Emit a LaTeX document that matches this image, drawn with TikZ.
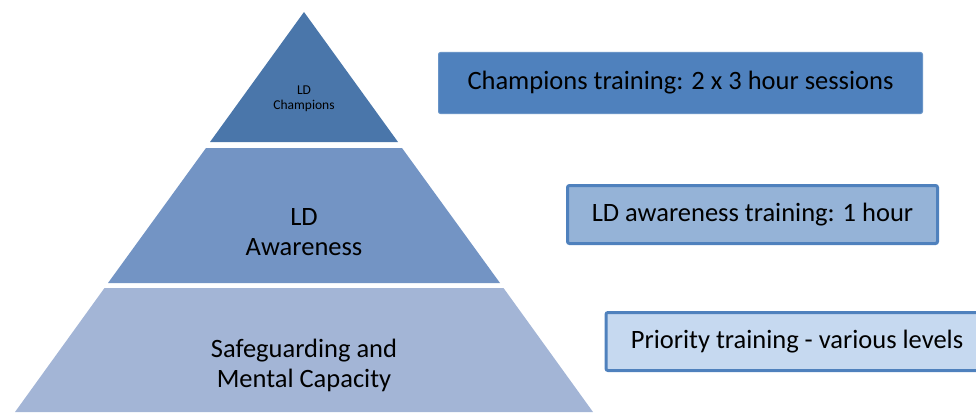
\documentclass[tikz,border=0pt]{standalone}
\usepackage{fontspec}
\setmainfont{Carlito}
\usepackage{tikz}
\usetikzlibrary{positioning}

\definecolor{tiertop}{RGB}{74,118,170}
\definecolor{tiermid}{RGB}{115,148,196}
\definecolor{tierlow}{RGB}{163,181,214}
\definecolor{boxtop}{RGB}{79,129,189}
\definecolor{boxmid}{RGB}{149,179,215}
\definecolor{boxlow}{RGB}{198,217,240}
\definecolor{boxedge}{RGB}{79,129,189}

\begin{document}
\begin{tikzpicture}[x=1pt,y=-1pt,
    tierlabel/.style={align=center, font=\fontsize{26.5}{30}\selectfont},
    infobox/.style={draw=boxedge, line width=3pt, rounded corners=2pt,
      minimum height=58pt, inner sep=0pt, font=\fontsize{26.5}{30}\selectfont}]
    \useasboundingbox (0,0) rectangle (976,412);
    % pyramid tiers
    \fill[tiertop] (304,12) -- (210,142) -- (398,142) -- cycle;
    \fill[tiermid] (206,148) -- (402,148) -- (500,283) -- (108,283) -- cycle;
    \fill[tierlow] (104.5,288) -- (503.5,288) -- (593,412) -- (15,412) -- cycle;
    \node[tierlabel, font=\fontsize{13.5}{15}\selectfont] (champ) at (304,99) {LD\\Champions};
    \node[tierlabel] (aware) at (304,232) {LD\\Awareness};
    \node[tierlabel] (safe) at (304,365) {Safeguarding and\\Mental Capacity};
    % training boxes
    \node[infobox, fill=boxtop, draw=boxedge!85!white, line width=1pt,
      minimum width=484pt, minimum height=61pt] (champbox) at (680.5,83)
      {Champions training: 2 x 3 hour sessions};
    \node[infobox, fill=boxmid, minimum width=370pt] (awarebox) at (752.5,214.5)
      {LD awareness training: 1 hour};
    \node[infobox, fill=boxlow, minimum width=382pt] (safebox) at (797,341.5)
      {Priority training - various levels};
  \end{tikzpicture}
\end{document}
